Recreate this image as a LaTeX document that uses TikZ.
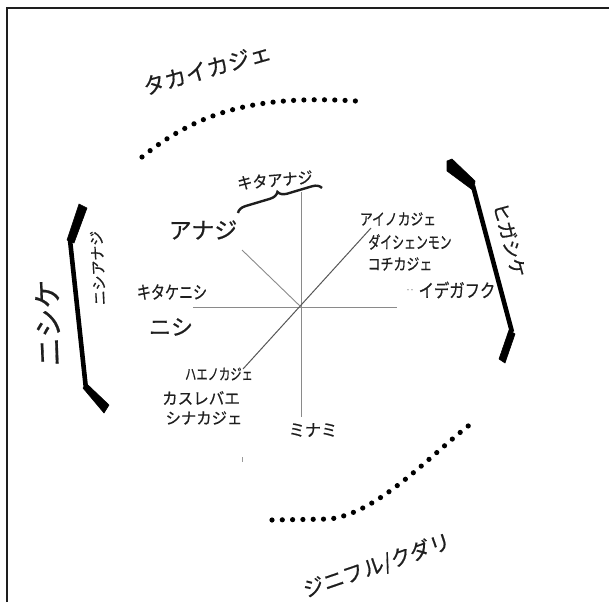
\documentclass[tikz,border=0pt]{standalone}
\usepackage{fontspec}
\newfontfamily\jp[FakeBold=0.6]{Noto Sans CJK JP}
\usetikzlibrary{decorations.pathreplacing}
\definecolor{ink}{HTML}{1E1E1E}
\definecolor{axisgray}{HTML}{8A8A8A}
\newcommand{\fsz}[1]{\fontsize{#1}{#1}\selectfont}
\tikzset{
  lbl/.style={font=\jp, text=ink, inner sep=0pt, anchor=center},
  axisline/.style={draw=axisgray, line width=0.9pt},
  dotcurve/.style={draw=black, line width=5.2pt, line cap=round, dash pattern=on 0pt off 10.3pt},
  barline/.style={draw=black, line width=4.6pt, line join=round},
  hook/.style={fill=black, draw=black, line width=0.6pt, line join=round},
}
\begin{document}
\begin{tikzpicture}[x=1pt,y=1pt]
\useasboundingbox (0,0) rectangle (609,-602);
% frame
\draw[line width=1.4pt, draw=ink] (7,-602) -- (7,-8) -- (609,-8);

% axes
\coordinate (C) at (301,-307);
\coordinate (W) at (193,-307);
\coordinate (E) at (397,-307);
\coordinate (N) at (301,-192);
\coordinate (S) at (301,-417);
\coordinate (NE) at (371,-228);
\coordinate (SW) at (243,-369);
\coordinate (NW) at (242,-250);
\draw[axisline] (W) -- (E);
\draw[axisline] (N) -- (S);
\draw[draw=ink!75, line width=1pt] (SW) -- (NE);
\draw[axisline] (NW) -- (C);

% dotted curves
\draw[dotcurve] (142,-157) .. controls (200,-110) and (260,-95) .. (356,-101);
\draw[dotcurve] (272,-520) -- (330,-519) .. controls (380,-512) and (430,-455) .. (472,-423);

% left bar
\fill[hook] (79,-204) -- (87,-208) -- (74,-243) -- (67,-240) -- cycle;
\draw[barline] (70,-240) -- (86,-389);
\fill[hook] (83,-388) -- (88,-385) -- (109,-405) -- (104,-413) -- cycle;

% right bar
\fill[hook] (447,-161) -- (452,-159) -- (475,-181) -- (474,-191) -- (447,-171) -- cycle;
\draw[barline] (473,-186) -- (512,-332);
\fill[hook] (509,-330) -- (515,-334) -- (505,-363) -- (499,-359) -- cycle;

% brace
\draw[ink, line width=2.4pt, decorate, decoration={brace, amplitude=9pt}] (238,-213) -- (322,-188);

% labels
\node[lbl, font=\jp\fsz{22}, rotate=16] (taka) at (207,-69) {タカイカジェ};
\node[lbl, font=\jp\fsz{21}, rotate=19] (jini) at (377,-566) {ジニフル/クダリ};
\node[lbl, font=\jp\fsz{29}, rotate=92] (nishike) at (48,-323) {ニシケ};
\node[lbl, font=\jp\fsz{15}, rotate=93] (nishiana) at (98,-268) {ニシアナジ};
\node[lbl, font=\jp\fsz{19}, rotate=-75] (higashike) at (510,-240) {ヒガシケ};

\node[lbl, font=\jp\fsz{16}, rotate=5, xscale=0.95] (kitaana) at (275,-180) {キタアナジ};
\node[lbl, font=\jp\fsz{23}] (anaji) at (203,-230) {アナジ};
\node[lbl, font=\jp\fsz{16}, xscale=0.8] (ainokaje) at (398,-219) {アイノカジェ};
\node[lbl, font=\jp\fsz{17}, xscale=0.7] (daishen) at (410,-242) {ダイシェンモン};
\node[lbl, font=\jp\fsz{16}, xscale=0.81] (kochi) at (400,-264) {コチカジェ};
\node[lbl, font=\jp\fsz{18.5}, xscale=0.83] (idega) at (457,-290) {イデガフク};
\node[lbl, font=\jp\fsz{8}, text=ink!45] (faint) at (410,-291) {‥};
\node[lbl, font=\jp\fsz{18}, xscale=0.78] (kitake) at (172,-292) {キタケニシ};
\node[lbl, font=\jp\fsz{22}] (nishi) at (171,-327) {ニシ};
\node[lbl, font=\jp\fsz{15.5}, xscale=0.73] (haeno) at (219,-374) {ハエノカジェ};
\node[lbl, font=\jp\fsz{16}, xscale=0.97] (kasure) at (201,-398) {カスレバエ};
\node[lbl, font=\jp\fsz{16}, xscale=0.96] (shina) at (204,-418) {シナカジェ};
\node[lbl, font=\jp\fsz{17}, xscale=0.95] (minami) at (313,-430) {ミナミ};

% small mark
\draw[ink!45, line width=0.6pt] (242,-457) -- (242,-462);
\end{tikzpicture}
\end{document}
